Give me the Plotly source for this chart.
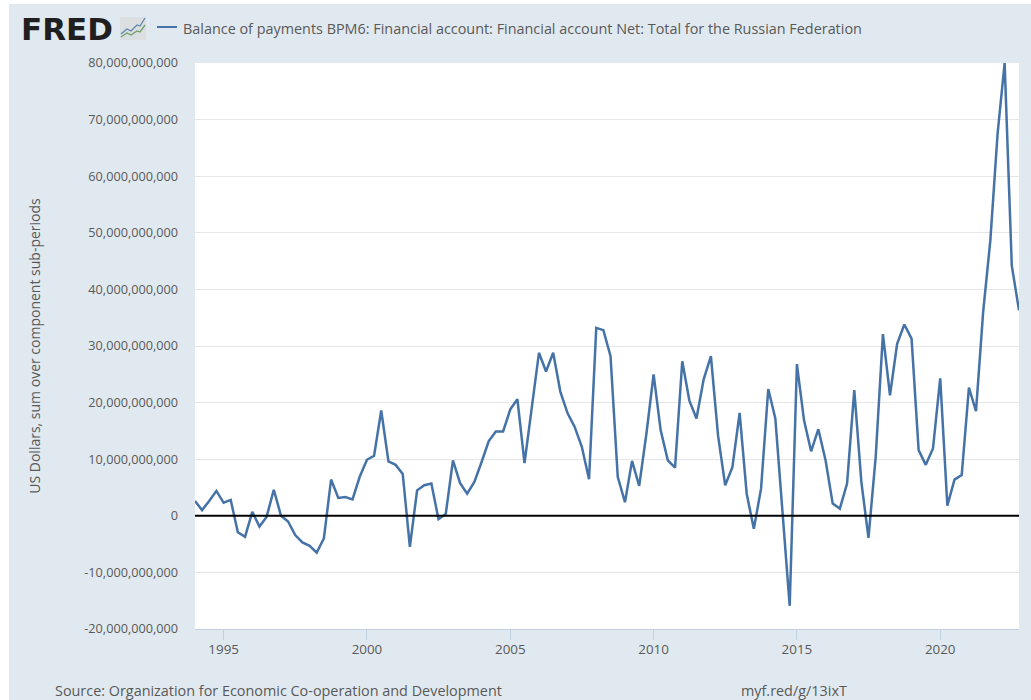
import pandas as pd
import plotly.graph_objects as go

SERIES_NAME = "Balance of payments BPM6: Financial account: Financial account Net: Total for the Russian Federation"
Y_TITLE = "US Dollars, sum over component sub-periods"
SOURCE = "Source: Organization for Economic Co-operation and Development"
SHORT_URL = "myf.red/g/13ixT"

START_QUARTER = "1994-01-01"
END_QUARTER = "2022-10-01"

# Billions of US dollars (quarterly, 1994Q1-2022Q4)
values_bn = [
    2.6, 1.0, 2.6, 4.4, 2.3, 2.8, -2.9, -3.7,
    0.7, -1.9, -0.2, 4.6, 0.0, -1.0, -3.4, -4.7,
    -5.3, -6.5, -4.0, 6.4, 3.15, 3.3, 2.9, 6.9,
    9.9, 10.6, 18.6, 9.6, 9.0, 7.4, -5.5, 4.5,
    5.4, 5.7, -0.6, 0.3, 9.8, 5.8, 3.9, 6.0,
    9.5, 13.2, 14.9, 14.9, 18.8, 20.6, 9.3, 19.2,
    28.8, 25.5, 28.8, 21.9, 18.1, 15.7, 12.2, 6.45,
    33.2, 32.8, 28.2, 6.9, 2.4, 9.7, 5.3, 14.5,
    25.0, 15.1, 9.8, 8.5, 27.3, 20.4, 17.2, 24.1,
    28.2, 14.2, 5.4, 8.6, 18.2, 3.9, -2.3, 4.8,
    22.4, 17.2, 0.3, -15.9, 26.8, 16.9, 11.4, 15.3,
    9.8, 2.15, 1.27, 5.7, 22.2, 6.0, -3.9, 10.4,
    32.1, 21.3, 30.4, 33.8, 31.3, 11.6, 9.0, 11.9,
    24.3, 1.8, 6.4, 7.2, 22.65, 18.5, 36.0, 48.7,
    67.5, 80.0, 44.2, 36.3,
]

y_tick_values = [-2e10, -1e10, 0, 1e10, 2e10, 3e10, 4e10, 5e10, 6e10, 7e10, 8e10]
y_tick_labels = [
    "-20,000,000,000", "-10,000,000,000", "0", "10,000,000,000", "20,000,000,000",
    "30,000,000,000", "40,000,000,000", "50,000,000,000", "60,000,000,000",
    "70,000,000,000", "80,000,000,000",
]

W, H = 1031, 700
L, R, T, B = 195, 1019, 63, 629
BG = "#e1e9f0"
LINE = "#4572a7"
TEXT = "#595959"
AXIS = "#c0d0e0"
BIG = 14.4
SMALL = 12.7


def px(x):
    return (x - L) / (R - L)


def py(y):
    return (B - y) / (B - T)


def path(points):
    return "M" + " L".join(f"{px(a):.5f},{py(b):.5f}" for a, b in points)


dates = pd.date_range(START_QUARTER, END_QUARTER, freq="QS")
values = [v * 1e9 for v in values_bn]

fig = go.Figure(
    go.Scatter(
        x=dates,
        y=values,
        mode="lines",
        name=SERIES_NAME,
        line=dict(color=LINE, width=2.5),
        showlegend=False,
    )
)

shapes = [
    dict(type="rect", xref="paper", yref="paper", x0=px(0), x1=px(9), y0=py(H), y1=py(0),
         fillcolor="white", line_width=0, layer="below"),
    dict(type="rect", xref="paper", yref="paper", x0=px(0), x1=px(W), y0=py(4), y1=py(0),
         fillcolor="white", line_width=0, layer="below"),
    dict(type="line", xref="paper", yref="y", x0=0, x1=1, y0=0, y1=0,
         line=dict(color="black", width=2), layer="above"),
    dict(type="line", xref="paper", yref="paper", x0=px(157), x1=px(177), y0=py(27), y1=py(27),
         line=dict(color=LINE, width=2)),
    dict(type="rect", xref="paper", yref="paper", x0=px(120), x1=px(146), y0=py(40), y1=py(17),
         fillcolor="#dcdfe1", line_width=0),
    dict(type="path", xref="paper", yref="paper",
         path=path([(121, 34), (127, 29), (131, 31), (137, 25), (140, 26), (145, 18)]),
         line=dict(color="#5f87ac", width=1.3)),
    dict(type="path", xref="paper", yref="paper",
         path=path([(121, 37), (127, 33), (131, 35), (137, 31), (140, 32), (145, 25)]),
         line=dict(color="#6f9f68", width=1.3)),
]

annotations = [
    dict(text="<b>FRED</b>", x=px(19), y=py(28.5), xref="paper", yref="paper", xanchor="left",
         yanchor="middle", showarrow=False,
         font=dict(family="DejaVu Sans", size=31, color="#1f1f1f")),
    dict(text=SERIES_NAME, x=px(181), y=py(28), xref="paper", yref="paper", xanchor="left",
         yanchor="middle", showarrow=False, font=dict(family="Open Sans", size=BIG, color=TEXT)),
    dict(text=SOURCE, x=px(53), y=py(691), xref="paper", yref="paper", xanchor="left",
         yanchor="middle", showarrow=False, font=dict(family="Open Sans", size=BIG, color=TEXT)),
    dict(text=SHORT_URL, x=px(739), y=py(691), xref="paper", yref="paper", xanchor="left",
         yanchor="middle", showarrow=False, font=dict(family="Open Sans", size=BIG, color=TEXT)),
]

fig.update_layout(
    width=W,
    height=H,
    margin=dict(l=L, r=W - R, t=T, b=H - B, pad=0),
    paper_bgcolor=BG,
    plot_bgcolor="white",
    font=dict(family="Open Sans", size=SMALL, color=TEXT),
    shapes=shapes,
    annotations=annotations,
    showlegend=False,
)
fig.update_xaxes(
    type="date",
    range=[START_QUARTER, END_QUARTER],
    tick0="1995-01-01",
    dtick="M60",
    tickformat="%Y",
    ticks="outside",
    ticklen=10,
    tickwidth=1,
    tickcolor=AXIS,
    ticklabelstandoff=-2,
    showline=True,
    linecolor=AXIS,
    linewidth=1,
    showgrid=False,
    zeroline=False,
    tickfont=dict(family="Open Sans", size=13.4, color=TEXT),
)
fig.update_yaxes(
    range=[-2e10, 8e10],
    tickmode="array",
    tickvals=y_tick_values,
    ticktext=y_tick_labels,
    ticks="",
    ticklabelstandoff=16,
    showgrid=True,
    gridcolor="#e6e6e6",
    gridwidth=1,
    zeroline=False,
    showline=False,
    title=dict(text=Y_TITLE, standoff=40, font=dict(family="Open Sans", size=14, color=TEXT)),
    tickfont=dict(family="Open Sans", size=SMALL, color=TEXT),
)

fig.write_html(
    "out.html",
    config=dict(displayModeBar=False),
    post_script="document.body.style.margin='0';document.body.style.overflow='hidden';",
)
